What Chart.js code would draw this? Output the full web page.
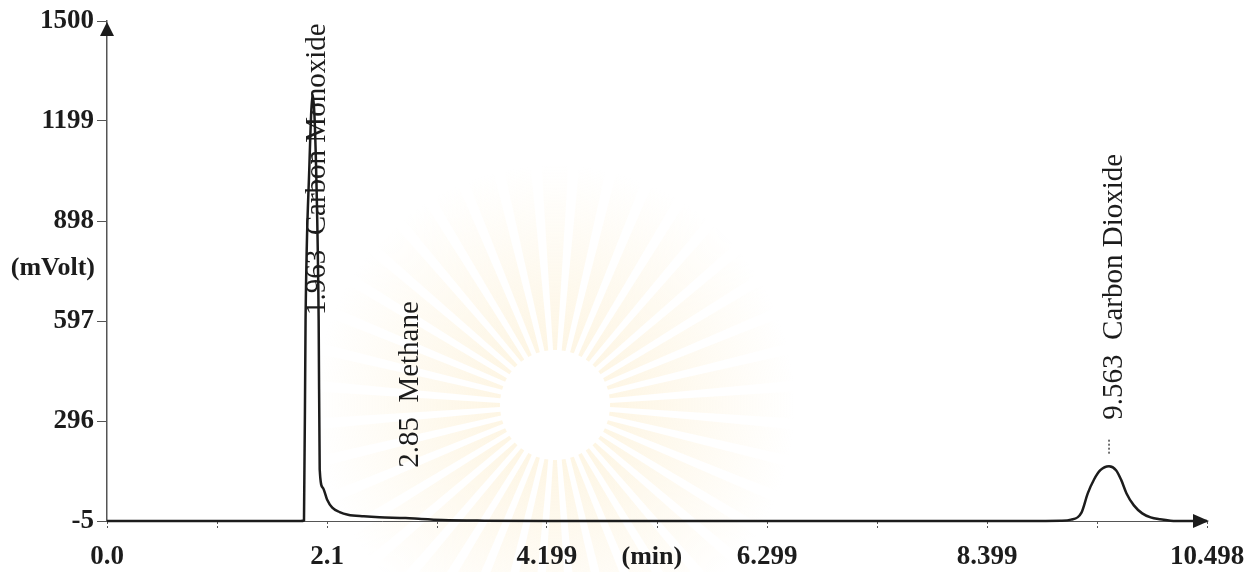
<!DOCTYPE html>
<html>
<head>
<meta charset="utf-8">
<script src="https://cdn.jsdelivr.net/npm/chart.js@4.4.1/dist/chart.umd.min.js"></script>
<style>
  html, body { margin: 0; padding: 0; background: #ffffff; }
  #wrap { width: 1247px; height: 572px; position: relative; }
</style>
</head>
<body>
<div id="wrap"><canvas id="c" width="1247" height="572"></canvas></div>
<script>
// ---- data ----
const times = [0.0, 0.5, 1.0, 1.5, 1.85, 1.88, 1.895, 1.93, 1.963, 2.0, 2.02, 2.03, 2.06, 2.1, 2.15, 2.22, 2.3, 2.45, 2.6, 2.85, 3.0, 3.2, 3.6, 4.2, 5.0, 6.0, 7.0, 8.0, 8.8, 9.1, 9.2, 9.3, 9.36, 9.42, 9.48, 9.563, 9.63, 9.68, 9.73, 9.8, 9.88, 9.96, 10.05, 10.15, 10.3, 10.498];
const mvolt = [-5, -5, -5, -5, -5, -3, 600, 1050, 1280, 1000, 600, 150, 95, 60, 35, 22, 14, 9, 6, 4, 1, -2, -4, -5, -5, -5, -5, -5, -5, -4, -1, 20, 78, 120, 148, 160, 148, 118, 78, 42, 18, 6, 0, -4, -5, -5];

const peakTimes = [1.963, 2.85, 9.563];
const peakNames = ['Carbon Monoxide', 'Methane', 'Carbon Dioxide'];
const peakLabelValues = [615, 155, 300];   // where each rotated label starts (mVolt)

const xTickValues = [0, 1.05, 2.1, 3.15, 4.199, 5.249, 6.299, 7.349, 8.399, 9.449, 10.498];
const xTickLabels = ['0.0', '', '2.1', '', '4.199', '', '6.299', '', '8.399', '', '10.498'];
const yTickValues = [-5, 296, 597, 898, 1199, 1500];
const yTickLabels = ['-5', '296', '597', '898', '1199', '1500'];

const INK = '#1c1c1c';
const SERIF = "'Liberation Serif', 'DejaVu Serif', serif";

const points = times.map((t, i) => ({ x: t, y: mvolt[i] }));

const watermark = {
  id: 'watermark',
  beforeDraw(chart) {
    const ctx = chart.ctx;
    ctx.save();
    const cx = 555, cy = 405;
    const n = 40;
    for (let i = 0; i < n; i++) {
      const a = (i / n) * Math.PI * 2;
      const w = 0.035;
      ctx.beginPath();
      ctx.moveTo(cx + Math.cos(a - w) * 55, cy + Math.sin(a - w) * 55);
      ctx.lineTo(cx + Math.cos(a - w * 1.6) * 240, cy + Math.sin(a - w * 1.6) * 240);
      ctx.lineTo(cx + Math.cos(a + w * 1.6) * 240, cy + Math.sin(a + w * 1.6) * 240);
      ctx.lineTo(cx + Math.cos(a + w) * 55, cy + Math.sin(a + w) * 55);
      ctx.closePath();
      const g = ctx.createRadialGradient(cx, cy, 50, cx, cy, 240);
      g.addColorStop(0, 'rgba(252,236,200,0.5)');
      g.addColorStop(1, 'rgba(252,236,200,0)');
      ctx.fillStyle = g;
      ctx.fill();
    }
    ctx.restore();
  }
};

const decorations = {
  id: 'decorations',
  afterDraw(chart) {
    const ctx = chart.ctx;
    const xs = chart.scales.x, ys = chart.scales.y;
    const a = chart.chartArea;
    ctx.save();
    ctx.fillStyle = INK;
    // y arrow
    ctx.beginPath();
    ctx.moveTo(a.left, a.top + 1);
    ctx.lineTo(a.left - 7, a.top + 15);
    ctx.lineTo(a.left + 7, a.top + 15);
    ctx.closePath();
    ctx.fill();
    // x arrow
    ctx.beginPath();
    ctx.moveTo(a.right + 2, a.bottom);
    ctx.lineTo(a.right - 14, a.bottom - 7);
    ctx.lineTo(a.right - 14, a.bottom + 7);
    ctx.closePath();
    ctx.fill();

    // axis titles
    ctx.font = 'bold 26px ' + SERIF;
    ctx.textAlign = 'right';
    ctx.textBaseline = 'middle';
    ctx.fillText('(mVolt)', a.left - 12, ys.getPixelForValue(755));
    ctx.textAlign = 'center';
    ctx.fillText('(min)', xs.getPixelForValue(5.2), a.bottom + 36);

    // peak labels
    ctx.font = '29px ' + SERIF;
    ctx.textAlign = 'left';
    ctx.textBaseline = 'middle';
    peakTimes.forEach((t, i) => {
      const px = xs.getPixelForValue(t) + 5;
      const py = ys.getPixelForValue(peakLabelValues[i]);
      ctx.save();
      ctx.translate(px, py);
      ctx.rotate(-Math.PI / 2);
      ctx.fillText(t + '  ' + peakNames[i], 0, 0);
      ctx.restore();
    });
    // retention marker above CO2 peak
    const mx = xs.getPixelForValue(peakTimes[2]);
    ctx.strokeStyle = '#444';
    ctx.lineWidth = 1.5;
    ctx.setLineDash([2, 2]);
    ctx.beginPath();
    ctx.moveTo(mx, ys.getPixelForValue(peakLabelValues[2]) + 20);
    ctx.lineTo(mx, ys.getPixelForValue(peakLabelValues[2]) + 36);
    ctx.stroke();
    ctx.restore();
  }
};

new Chart(document.getElementById('c'), {
  type: 'line',
  data: {
    datasets: [{
      data: points,
      borderColor: INK,
      borderWidth: 2.5,
      pointRadius: 0,
      fill: false,
      cubicInterpolationMode: 'monotone',
      clip: false
    }]
  },
  options: {
    responsive: false,
    animation: false,
    events: [],
    layout: { autoPadding: false, padding: { left: 0, top: 21, right: 40, bottom: 0 } },
    plugins: { legend: { display: false }, tooltip: { enabled: false } },
    scales: {
      x: {
        type: 'linear',
        min: 0,
        max: 10.498,
        afterBuildTicks: s => { s.ticks = xTickValues.map(v => ({ value: v })); },
        afterFit: s => { s.height = 51; s.paddingLeft = 0; s.paddingRight = 0; },
        border: { display: true, color: '#555', width: 1, dash: [4, 2] },
        grid: { drawOnChartArea: false, drawTicks: true, tickLength: 8, color: '#555', tickWidth: 1, tickBorderDash: [2, 2] },
        ticks: {
          autoSkip: false,
          maxRotation: 0,
          padding: 12,
          color: INK,
          font: { family: SERIF, size: 27, weight: 'bold' },
          callback: (v, i) => xTickLabels[i]
        }
      },
      y: {
        type: 'linear',
        min: -5,
        max: 1500,
        afterBuildTicks: s => { s.ticks = yTickValues.map(v => ({ value: v })); },
        afterFit: s => { s.width = 107; s.paddingTop = 0; s.paddingBottom = 0; },
        border: { display: true, color: '#555', width: 1.5, dash: [3, 2] },
        grid: { drawOnChartArea: false, drawTicks: true, tickLength: 10, color: '#555', tickWidth: 1 },
        ticks: {
          autoSkip: false,
          padding: 3,
          color: INK,
          font: { family: SERIF, size: 27, weight: 'bold' },
          callback: (v, i) => yTickLabels[i]
        }
      }
    }
  },
  plugins: [watermark, decorations]
});
</script>
</body>
</html>
